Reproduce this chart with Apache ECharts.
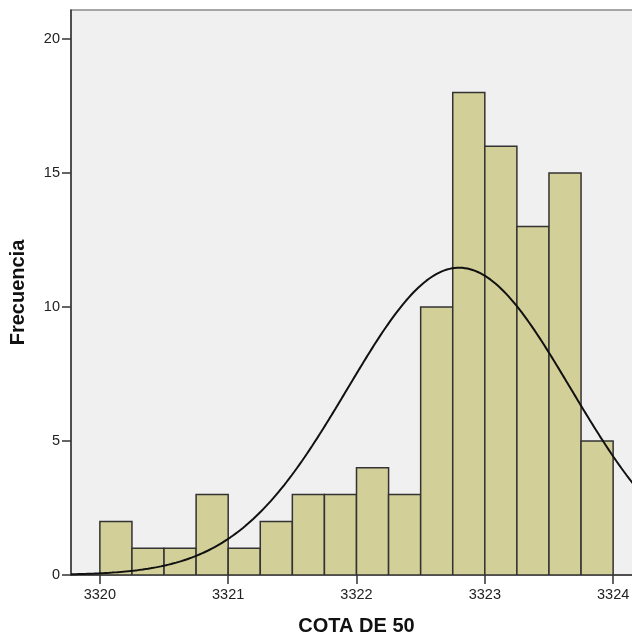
<!DOCTYPE html>
<html>
<head>
<meta charset="utf-8">
<script src="https://cdn.jsdelivr.net/npm/echarts@6/dist/echarts.min.js"></script>
<style>
html,body{margin:0;padding:0;background:#fff;overflow:hidden;width:632px;height:641px;}
#chart{width:642px;height:641px;}
</style>
</head>
<body>
<div id="chart"></div>
<script>
// Histogram bins (lower edge, upper edge) and frequencies
const binStarts = [3320.00, 3320.25, 3320.50, 3320.75, 3321.00, 3321.25, 3321.50, 3321.75,
                   3322.00, 3322.25, 3322.50, 3322.75, 3323.00, 3323.25, 3323.50, 3323.75];
const binWidth = 0.25;
const counts = [2, 1, 1, 3, 1, 2, 3, 3, 4, 3, 10, 18, 16, 13, 15, 5];
// Fitted normal curve parameters
const curveMean = 3322.80;
const curveSD = 0.87;
// Tick labels
const xTicks = [3320, 3321, 3322, 3323, 3324];
const yTicks = [0, 5, 10, 15, 20];

const xMin = 3319.775, xMax = 3324.225, yMax = 21.08;

const N = counts.reduce((a, b) => a + b, 0);
const barData = binStarts.map((s, i) => [s, s + binWidth, counts[i]]);
const curve = [];
for (let k = 0; k <= 445; k++) {
  const x = xMin + k * 0.01;
  const z = (x - curveMean) / curveSD;
  curve.push([x, N * binWidth / (curveSD * Math.sqrt(2 * Math.PI)) * Math.exp(-0.5 * z * z)]);
}

const chart = echarts.init(document.getElementById('chart'), null, {renderer: 'canvas'});
const font = '"Liberation Sans", Arial, sans-serif';
chart.setOption({
  animation: false,
  backgroundColor: '#ffffff',
  grid: {
    left: 71, top: 10, right: 0, bottom: 66,
    show: true, backgroundColor: '#F0F0F0', borderColor: '#8a8a8a', borderWidth: 1.5
  },
  xAxis: {
    type: 'value', min: xMin, max: xMax,
    name: 'COTA DE 50', nameLocation: 'middle', nameGap: 41,
    nameTextStyle: {fontFamily: font, fontSize: 20, fontWeight: 'bold', color: '#111'},
    axisLine: {show: true, lineStyle: {color: '#333', width: 1.5}},
    axisTick: {show: true, length: 9, lineStyle: {color: '#333', width: 1.5}, customValues: xTicks},
    axisLabel: {fontFamily: font, fontSize: 14.5, color: '#222', margin: 12, customValues: xTicks,
                formatter: function (v) { return String(v); }},
    splitLine: {show: false}
  },
  yAxis: {
    type: 'value', min: 0, max: yMax,
    name: 'Frecuencia', nameLocation: 'middle', nameGap: 43,
    nameTextStyle: {fontFamily: font, fontSize: 20, fontWeight: 'bold', color: '#111'},
    axisLine: {show: true, lineStyle: {color: '#333', width: 1.5}},
    axisTick: {show: true, length: 9, lineStyle: {color: '#333', width: 1.5}, customValues: yTicks},
    axisLabel: {fontFamily: font, fontSize: 14.5, color: '#222', margin: 11, customValues: yTicks,
                formatter: function (v) { return String(v); }},
    splitLine: {show: false}
  },
  series: [
    {
      type: 'custom',
      data: barData,
      clip: true,
      renderItem: function (params, api) {
        const p0 = api.coord([api.value(0), api.value(2)]);
        const p1 = api.coord([api.value(1), 0]);
        return {
          type: 'rect',
          shape: {x: p0[0], y: p0[1], width: p1[0] - p0[0], height: p1[1] - p0[1]},
          style: {fill: '#D3CF98', stroke: '#333333', lineWidth: 1.5}
        };
      },
      encode: {x: [0, 1], y: 2}
    },
    {
      type: 'line',
      data: curve,
      showSymbol: false,
      smooth: false,
      clip: true,
      lineStyle: {color: '#111', width: 2},
      z: 5
    }
  ]
});
</script>
</body>
</html>
